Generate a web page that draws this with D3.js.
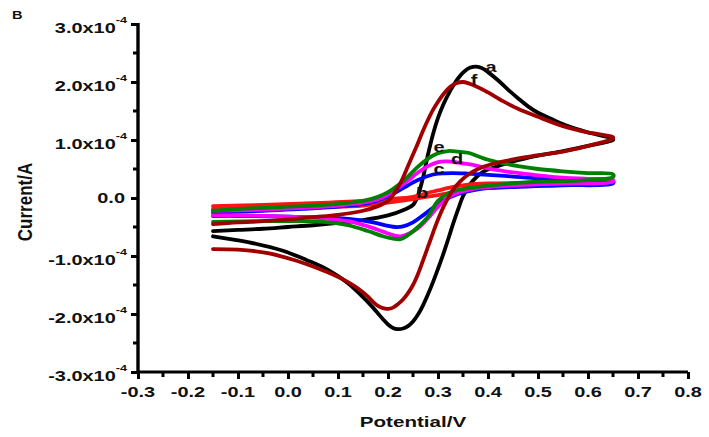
<!DOCTYPE html>
<html><head><meta charset="utf-8">
<script src="https://cdn.jsdelivr.net/npm/d3@7"></script>
<style>
html,body{margin:0;padding:0;background:#fff;}
svg{display:block;}
text{font-family:"Liberation Sans",Arial,sans-serif;font-weight:bold;fill:#111;}
</style>
</head><body>
<svg id="chart" width="709" height="437"></svg>
<script>
// ---- data (potential V, current in 1e-4 A) ----
const xTickValues = [-0.3,-0.2,-0.1,0.0,0.1,0.2,0.3,0.4,0.5,0.6,0.7,0.8];
const xTickLabels = ["-0.3","-0.2","-0.1","0.0","0.1","0.2","0.3","0.4","0.5","0.6","0.7","0.8"];
const yTickValues = [-3,-2,-1,0,1,2,3];
const yTickLabels = ["-3.0x10","-2.0x10","-1.0x10","0.0","1.0x10","2.0x10","3.0x10"];
const yTickExponent = "-4";

const seriesNames = ["a","b","c","d","e","f"];
const seriesColors = ["#000000","#ff1414","#0000ff","#ff00ff","#008000","#a00000"];

const aAnodic = [[-0.15,-0.57],[-0.10,-0.55],[-0.05,-0.53],[0.00,-0.50],[0.05,-0.47],[0.10,-0.43],[0.15,-0.38],[0.20,-0.30],[0.23,-0.21],[0.25,-0.12],[0.26,0.05],[0.27,0.35],[0.28,0.75],[0.29,1.10],[0.30,1.38],[0.31,1.60],[0.32,1.78],[0.33,1.93],[0.34,2.06],[0.35,2.16],[0.36,2.23],[0.37,2.26],[0.38,2.26],[0.39,2.23],[0.40,2.17],[0.42,2.03],[0.44,1.87],[0.46,1.72],[0.48,1.58],[0.50,1.47],[0.53,1.35],[0.56,1.24],[0.60,1.13],[0.65,1.02]];
const aCathodic = [[0.65,1.00],[0.60,0.90],[0.55,0.81],[0.50,0.73],[0.45,0.63],[0.41,0.52],[0.39,0.45],[0.37,0.30],[0.36,0.18],[0.35,0.03],[0.34,-0.20],[0.33,-0.45],[0.32,-0.72],[0.31,-0.98],[0.30,-1.22],[0.29,-1.45],[0.28,-1.66],[0.27,-1.85],[0.26,-2.01],[0.25,-2.13],[0.24,-2.21],[0.23,-2.25],[0.22,-2.26],[0.21,-2.24],[0.20,-2.18],[0.19,-2.09],[0.18,-1.99],[0.17,-1.89],[0.15,-1.71],[0.12,-1.47],[0.08,-1.24],[0.04,-1.08],[-0.01,-0.91],[-0.08,-0.76],[-0.15,-0.66]];

const bAnodic = [[-0.15,-0.14],[-0.05,-0.12],[0.05,-0.09],[0.15,-0.05],[0.20,-0.02],[0.25,0.02],[0.28,0.09],[0.30,0.13],[0.33,0.19],[0.36,0.23],[0.40,0.25],[0.50,0.26],[0.60,0.27],[0.65,0.28]];
const bCathodic = [[0.65,0.26],[0.55,0.24],[0.45,0.21],[0.40,0.18],[0.35,0.12],[0.30,0.05],[0.25,-0.02],[0.20,-0.08],[0.15,-0.13],[0.05,-0.16],[-0.05,-0.18],[-0.15,-0.19]];

const cAnodic = [[-0.15,-0.25],[-0.05,-0.22],[0.05,-0.18],[0.10,-0.15],[0.15,-0.10],[0.18,-0.04],[0.20,0.03],[0.22,0.12],[0.24,0.22],[0.26,0.31],[0.28,0.38],[0.30,0.42],[0.33,0.43],[0.36,0.42],[0.40,0.40],[0.45,0.37],[0.50,0.34],[0.55,0.32],[0.60,0.30],[0.65,0.29]];
const cCathodic = [[0.65,0.25],[0.55,0.22],[0.45,0.19],[0.38,0.15],[0.34,0.07],[0.31,-0.05],[0.29,-0.17],[0.27,-0.30],[0.25,-0.42],[0.23,-0.49],[0.215,-0.50],[0.20,-0.48],[0.17,-0.42],[0.13,-0.37],[0.08,-0.34],[0.00,-0.32],[-0.10,-0.31],[-0.15,-0.31]];

const dAnodic = [[-0.15,-0.22],[-0.05,-0.20],[0.05,-0.16],[0.10,-0.13],[0.15,-0.08],[0.18,-0.02],[0.20,0.06],[0.22,0.17],[0.24,0.30],[0.26,0.44],[0.28,0.55],[0.30,0.62],[0.32,0.63],[0.34,0.61],[0.37,0.57],[0.40,0.51],[0.45,0.44],[0.50,0.39],[0.55,0.35],[0.60,0.33],[0.65,0.31]];
const dCathodic = [[0.65,0.28],[0.55,0.25],[0.45,0.22],[0.38,0.17],[0.34,0.09],[0.32,0.00],[0.30,-0.15],[0.28,-0.35],[0.26,-0.52],[0.24,-0.62],[0.225,-0.66],[0.21,-0.64],[0.19,-0.58],[0.16,-0.49],[0.12,-0.40],[0.07,-0.35],[0.00,-0.32],[-0.10,-0.30],[-0.15,-0.30]];

const eAnodic = [[-0.15,-0.22],[-0.10,-0.19],[-0.05,-0.17],[0.00,-0.15],[0.05,-0.13],[0.10,-0.10],[0.15,-0.05],[0.18,0.02],[0.20,0.10],[0.22,0.22],[0.24,0.37],[0.26,0.54],[0.28,0.68],[0.30,0.77],[0.32,0.81],[0.34,0.80],[0.36,0.78],[0.38,0.72],[0.40,0.66],[0.43,0.60],[0.46,0.55],[0.50,0.50],[0.55,0.46],[0.60,0.43],[0.65,0.41]];
const eCathodic = [[0.65,0.36],[0.60,0.31],[0.55,0.29],[0.50,0.28],[0.46,0.26],[0.42,0.23],[0.38,0.19],[0.34,0.14],[0.32,0.08],[0.30,-0.05],[0.28,-0.32],[0.26,-0.50],[0.24,-0.64],[0.225,-0.71],[0.21,-0.70],[0.19,-0.66],[0.16,-0.57],[0.12,-0.47],[0.08,-0.42],[0.03,-0.40],[-0.05,-0.40],[-0.15,-0.41]];

const fAnodic = [[-0.15,-0.45],[-0.10,-0.42],[-0.05,-0.40],[0.00,-0.37],[0.05,-0.33],[0.10,-0.29],[0.15,-0.22],[0.18,-0.14],[0.20,-0.05],[0.21,0.05],[0.22,0.18],[0.23,0.35],[0.24,0.55],[0.25,0.75],[0.26,0.95],[0.27,1.16],[0.28,1.35],[0.29,1.52],[0.30,1.66],[0.31,1.78],[0.32,1.88],[0.33,1.95],[0.34,1.99],[0.35,2.00],[0.36,1.98],[0.38,1.91],[0.40,1.82],[0.43,1.67],[0.46,1.54],[0.50,1.40],[0.55,1.24],[0.60,1.13],[0.65,1.05]];
const fCathodic = [[0.65,1.03],[0.61,0.92],[0.55,0.80],[0.48,0.71],[0.41,0.59],[0.38,0.50],[0.36,0.40],[0.345,0.29],[0.33,0.14],[0.32,0.00],[0.31,-0.17],[0.30,-0.37],[0.29,-0.60],[0.28,-0.84],[0.27,-1.08],[0.26,-1.31],[0.25,-1.50],[0.24,-1.64],[0.23,-1.75],[0.22,-1.83],[0.21,-1.89],[0.20,-1.91],[0.19,-1.90],[0.18,-1.86],[0.17,-1.79],[0.16,-1.70],[0.14,-1.56],[0.12,-1.45],[0.09,-1.32],[0.05,-1.18],[0.02,-1.09],[-0.04,-0.95],[-0.10,-0.89],[-0.15,-0.88]];

// label anchor points (V, current) for the curve letters
const curveLabelPos = [[0.406,2.26],[0.268,0.09],[0.302,0.50],[0.338,0.68],[0.302,0.88],[0.372,2.03]];

const panelLabel = "B";
const xTitle = "Potential/V";
const yTitle = "Current/A";

// ---- drawing ----
const svg = d3.select("#chart");
svg.append("rect").attr("width",709).attr("height",437).attr("fill","#fff");

const margin = {left:138, right:21, top:24, bottom:65};
const W = 709, H = 437;
const x = d3.scaleLinear().domain([-0.3,0.8]).range([margin.left, W - margin.right]);
const y = d3.scaleLinear().domain([-3,3]).range([H - margin.bottom, margin.top]);

const sx = 1.33; // horizontal stretch of text in reference

const curves = [
  aAnodic.concat(aCathodic),
  bAnodic.concat(bCathodic),
  cAnodic.concat(cCathodic),
  dAnodic.concat(dCathodic),
  eAnodic.concat(eCathodic),
  fAnodic.concat(fCathodic)
];

const line = d3.line().x(d=>x(d[0])).y(d=>y(d[1])).curve(d3.curveCatmullRom.alpha(0.5));

const gCurves = svg.append("g");
curves.forEach((pts,i)=>{
  gCurves.append("path")
    .attr("d", line(pts))
    .attr("fill","none")
    .attr("stroke", seriesColors[i])
    .attr("stroke-width", 3.8)
    .attr("stroke-linejoin","round")
    .attr("stroke-linecap","round");
});

// axes
const axisColor = "#000";
const xAxisG = svg.append("g").attr("transform",`translate(0,${y(-3)})`);
xAxisG.call(d3.axisBottom(x).tickValues(xTickValues).tickSize(7).tickFormat(""));
const xMinor = d3.range(-0.25, 0.8, 0.1);
xAxisG.call(g=>g.selectAll(".minor").data(xMinor).enter().append("line")
  .attr("class","minor").attr("x1",d=>x(d)).attr("x2",d=>x(d)).attr("y1",0).attr("y2",5)
  .attr("stroke",axisColor).attr("stroke-width",3));
xAxisG.select(".domain").attr("d",`M${x(-0.3)},0H${x(0.8)}`).attr("stroke",axisColor).attr("stroke-width",3.2);
xAxisG.selectAll(".tick line").attr("stroke",axisColor).attr("stroke-width",3);

const yAxisG = svg.append("g").attr("transform",`translate(${x(-0.3)},0)`);
yAxisG.call(d3.axisLeft(y).tickValues(yTickValues).tickSize(7).tickFormat(""));
const yMinor = d3.range(-2.5, 3, 1);
yAxisG.call(g=>g.selectAll(".minor").data(yMinor).enter().append("line")
  .attr("class","minor").attr("y1",d=>y(d)).attr("y2",d=>y(d)).attr("x1",0).attr("x2",-5)
  .attr("stroke",axisColor).attr("stroke-width",3));
yAxisG.select(".domain").attr("d",`M0,${y(3)-1}V${y(-3)+2}`).attr("stroke",axisColor).attr("stroke-width",3.4);
yAxisG.selectAll(".tick line").attr("stroke",axisColor).attr("stroke-width",3);

// x tick labels
xTickValues.forEach((v,i)=>{
  svg.append("text")
    .attr("transform",`translate(${x(v)},${y(-3)+25}) scale(${sx},1)`)
    .attr("text-anchor","middle").attr("font-size",15)
    .text(xTickLabels[i]);
});

// y tick labels
yTickValues.forEach((v,i)=>{
  const hasExp = v !== 0;
  const t = svg.append("text")
    .attr("transform",`translate(${hasExp?127:125},${y(v)+(hasExp?9:4.5)}) scale(${sx},1)`)
    .attr("text-anchor","end").attr("font-size",15);
  t.append("tspan").text(yTickLabels[i]);
  if(hasExp){
    t.append("tspan").attr("font-size",9.5).attr("dy",-10).text(yTickExponent);
  }
});

// axis titles
svg.append("text")
  .attr("transform",`translate(${x(0.25)},${H-10}) scale(${sx},1)`)
  .attr("text-anchor","middle").attr("font-size",15.5)
  .text(xTitle);
svg.append("text")
  .attr("transform",`translate(32,${y(0)+4}) scale(1.15,1) rotate(-90)`)
  .attr("text-anchor","middle").attr("font-size",17)
  .text(yTitle);

// panel label
svg.append("text")
  .attr("transform",`translate(12,19) scale(${sx},1)`)
  .attr("font-size",11)
  .text(panelLabel);

// curve letters
curveLabelPos.forEach((p,i)=>{
  svg.append("text")
    .attr("transform",`translate(${x(p[0])},${y(p[1])+5}) scale(${sx},1)`)
    .attr("text-anchor","middle").attr("font-size",15)
    .text(seriesNames[i]);
});
</script>
</body></html>
